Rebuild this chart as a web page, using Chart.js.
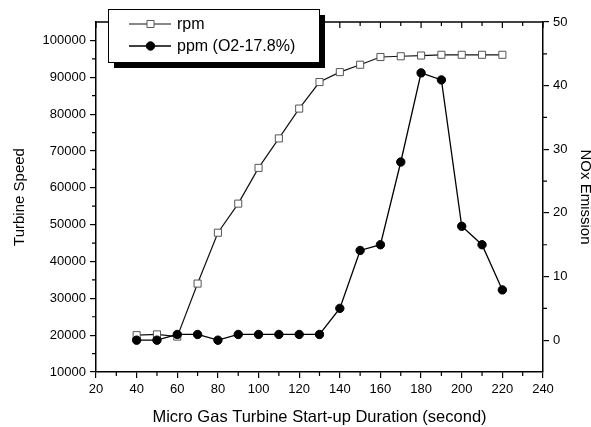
<!DOCTYPE html>
<html><head><meta charset="utf-8">
<script src="https://cdn.jsdelivr.net/npm/chart.js@4.4.0/dist/chart.umd.min.js"></script>
<style>html,body{margin:0;padding:0;background:#fff}#wrap{width:591px;height:427px}</style>
</head><body><div id="wrap"><canvas id="c" width="591" height="427"></canvas></div>
<script>
// ---- data ----
const durations = [40, 50, 60, 70, 80, 90, 100, 110, 120, 130, 140, 150, 160, 170, 180, 190, 200, 210, 220];
const rpmValues = [20000, 20200, 19600, 34000, 47800, 55700, 65400, 73400, 81500, 88700, 91400, 93400, 95500, 95700, 95900, 96100, 96100, 96100, 96100];
const ppmValues = [0, 0, 0.9, 0.9, 0, 0.9, 0.9, 0.9, 0.9, 0.9, 5.0, 14.1, 15.0, 28.0, 42.0, 40.9, 17.9, 15.0, 7.9];
const seriesNames = ['rpm', 'ppm (O2-17.8%)'];
const axisTitles = { x: 'Micro Gas Turbine Start-up Duration (second)', y: 'Turbine Speed', y1: 'NOx Emission' };
const xTickValues = [20, 40, 60, 80, 100, 120, 140, 160, 180, 200, 220, 240];
const yTickValues = [10000, 20000, 30000, 40000, 50000, 60000, 70000, 80000, 90000, 100000];
const y1TickValues = [0, 10, 20, 30, 40, 50];
const xRange = [20, 240];
const yRange = [10000, 105000];
const y1Range = [-5, 50];

const FONT = "'Liberation Sans', Arial, Helvetica, sans-serif";
Chart.defaults.font.family = FONT;
Chart.defaults.color = '#000';

const rpmPoints = durations.map((d, i) => ({ x: d, y: rpmValues[i] }));
const ppmPoints = durations.map((d, i) => ({ x: d, y: ppmValues[i] }));

const AXIS_W = 1.5;

// minor ticks, top frame, inward top ticks, legend
const framePlugin = {
  id: 'frame',
  afterDraw(chart) {
    const { ctx, chartArea: ca, scales } = chart;
    ctx.save();
    ctx.strokeStyle = '#000';
    ctx.lineWidth = AXIS_W;
    ctx.beginPath();
    ctx.moveTo(ca.left - AXIS_W / 2, ca.top);
    ctx.lineTo(ca.right + AXIS_W / 2, ca.top);
    ctx.stroke();
    ctx.lineWidth = 1.2;
    const mids = (ticks) => {
      const out = [];
      for (let i = 0; i < ticks.length - 1; i++) out.push((ticks[i].value + ticks[i + 1].value) / 2);
      return out;
    };
    const xs = scales.x;
    const xMin = mids(xs.ticks);
    ctx.beginPath();
    xMin.forEach(v => { const p = xs.getPixelForValue(v); ctx.moveTo(p, ca.bottom); ctx.lineTo(p, ca.bottom + 4); });
    xs.ticks.forEach(t => { const p = xs.getPixelForValue(t.value); ctx.moveTo(p, ca.top); ctx.lineTo(p, ca.top + 6); });
    xMin.forEach(v => { const p = xs.getPixelForValue(v); ctx.moveTo(p, ca.top); ctx.lineTo(p, ca.top + 4); });
    const ys = scales.y;
    mids(ys.ticks).forEach(v => { const p = ys.getPixelForValue(v); ctx.moveTo(ca.left, p); ctx.lineTo(ca.left - 4, p); });
    const y1 = scales.y1;
    mids(y1.ticks).forEach(v => { const p = y1.getPixelForValue(v); ctx.moveTo(ca.right, p); ctx.lineTo(ca.right + 4, p); });
    ctx.stroke();

    // legend box with shadow
    const bx = 108, by = 9, bw = 211, bh = 53;
    ctx.fillStyle = '#000';
    ctx.fillRect(bx + 6, by + 6, bw, bh);
    ctx.fillStyle = '#fff';
    ctx.fillRect(bx, by, bw, bh);
    ctx.lineWidth = 1;
    ctx.strokeStyle = '#000';
    ctx.strokeRect(bx + 0.5, by + 0.5, bw, bh);
    const rows = [24, 46];
    chart.data.datasets.forEach((ds) => {
      const yy = rows[ds.legendRow];
      ctx.strokeStyle = ds.borderColor;
      ctx.lineWidth = ds.borderWidth;
      ctx.beginPath();
      ctx.moveTo(129, yy); ctx.lineTo(171, yy);
      ctx.stroke();
      ctx.fillStyle = ds.pointBackgroundColor;
      ctx.strokeStyle = ds.pointBorderColor;
      ctx.lineWidth = ds.pointBorderWidth;
      ctx.beginPath();
      if (ds.pointStyle === 'rect') {
        const s = Math.SQRT1_2 * ds.pointRadius;
        ctx.rect(150.5 - s, yy - s, 2 * s, 2 * s);
      } else {
        ctx.arc(150.5, yy, ds.pointRadius, 0, Math.PI * 2);
      }
      ctx.fill(); ctx.stroke();
      ctx.fillStyle = '#000';
      ctx.font = '16px ' + FONT;
      ctx.textBaseline = 'middle';
      ctx.textAlign = 'left';
      ctx.fillText(ds.label, 177, yy + 1);
    });
    ctx.restore();
  }
};

const gridCommon = { display: true, drawOnChartArea: false, drawTicks: true, tickLength: 6, color: '#000', tickColor: '#000', tickWidth: 1.2, lineWidth: 1.2 };
const borderCommon = { display: true, color: '#000', width: AXIS_W };
const setTicks = (vals) => (scale) => { scale.ticks = vals.map(v => ({ value: v })); };

new Chart(document.getElementById('c'), {
  type: 'line',
  data: {
    datasets: [
      {
        label: seriesNames[1], data: ppmPoints, yAxisID: 'y1', order: 0, legendRow: 1,
        borderColor: '#000', borderWidth: 1.3, pointStyle: 'circle', pointRadius: 4.2,
        pointBackgroundColor: '#000', pointBorderColor: '#000', pointBorderWidth: 1, tension: 0
      },
      {
        label: seriesNames[0], data: rpmPoints, yAxisID: 'y', order: 1, legendRow: 0,
        borderColor: '#111', borderWidth: 1.2, pointStyle: 'rect', pointRadius: 5,
        pointBackgroundColor: '#fff', pointBorderColor: '#555', pointBorderWidth: 1, tension: 0
      }
    ]
  },
  options: {
    responsive: false,
    animation: false,
    layout: { padding: { top: 22, left: 0, right: 0, bottom: 0 } },
    plugins: { legend: { display: false }, tooltip: { enabled: false } },
    scales: {
      x: {
        type: 'linear', min: xRange[0], max: xRange[1],
        afterBuildTicks: setTicks(xTickValues),
        ticks: { autoSkip: false, maxRotation: 0, padding: 4, font: { size: 13 }, color: '#000', callback: v => String(v) },
        grid: gridCommon, border: borderCommon,
        title: { display: true, text: axisTitles.x, font: { size: 16.5 }, color: '#000', padding: { top: 0, bottom: 0 } },
        afterFit(s) { s.height = 55; }
      },
      y: {
        type: 'linear', position: 'left', min: yRange[0], max: yRange[1],
        afterBuildTicks: setTicks(yTickValues),
        ticks: { autoSkip: false, padding: 4, font: { size: 13 }, color: '#000', callback: v => String(v) },
        grid: gridCommon, border: borderCommon,
        title: { display: true, text: axisTitles.y, font: { size: 15 }, color: '#000', padding: { top: 11, bottom: 0 } },
        afterFit(s) { s.width = 96; }
      },
      y1: {
        type: 'linear', position: 'right', min: y1Range[0], max: y1Range[1],
        afterBuildTicks: setTicks(y1TickValues),
        ticks: { autoSkip: false, padding: 4, font: { size: 13 }, color: '#000', callback: v => String(v) },
        grid: gridCommon, border: borderCommon,
        title: { display: true, text: axisTitles.y1, font: { size: 15 }, color: '#000', padding: { top: -3, bottom: 0 } },
        afterFit(s) { s.width = 48; }
      }
    }
  },
  plugins: [framePlugin]
});
</script>
</body></html>
